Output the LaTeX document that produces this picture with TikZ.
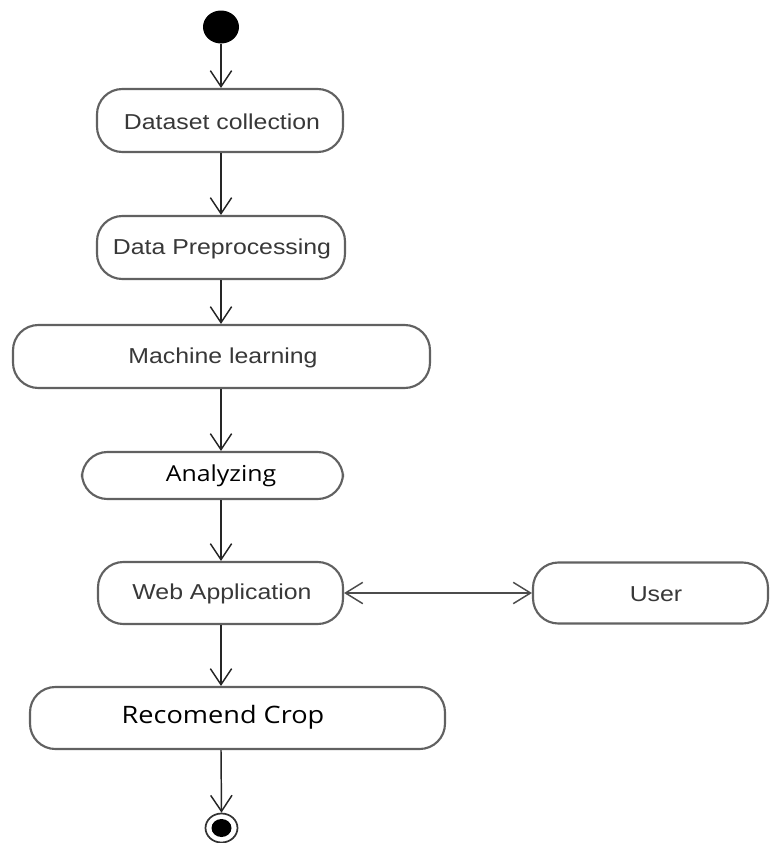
\documentclass[tikz,border=0pt]{standalone}
\usepackage{fontspec}
\setmainfont{Liberation Sans}[FakeStretch=1.15]
\newfontfamily\osans{Open Sans}[FakeStretch=1.13]
\usetikzlibrary{arrows.meta,shapes.geometric}
\def\u{0.75pt}
\tikzset{
  box/.style={draw=black!62, line width=1.6pt, rounded corners=19pt, fill=white, inner sep=0pt},
  lbl/.style={inner sep=0pt, text=black!78, font=\fontsize{16.2pt}{18pt}\selectfont},
  lblb/.style={inner sep=0pt, text=black, font=\osans\fontsize{16.5pt}{18pt}\selectfont},
  arr/.style={draw=black!85, line width=1.1pt, -{Straight Barb[length=12pt, width=16pt, line width=1.1pt]}},
  darr/.style={draw=black!70, line width=1.1pt, {Straight Barb[length=13pt, width=16pt, line width=1.1pt]}-{Straight Barb[length=13pt, width=16pt, line width=1.1pt]}},
}
\begin{document}
\begin{tikzpicture}[x=0.75pt, y=-0.75pt]
\useasboundingbox (0,0) rectangle (769,843);
% start
\node[draw=none, fill=black, ellipse, minimum width=36*\u, minimum height=33*\u, inner sep=0pt] (start) at (221,27) {};
% boxes
\node[box, minimum width=246*\u, minimum height=63*\u] (dc) at (220,120.5) {};
\node[lbl] (dct) at (222,122) {Dataset collection};
\node[box, minimum width=248*\u, minimum height=63*\u] (dp) at (221,247.5) {};
\node[lbl] (dpt) at (222,249) {Data Preprocessing};
\node[box, minimum width=417*\u, minimum height=63*\u] (ml) at (221.5,356.5) {};
\node[lbl] (mlt) at (223,358) {Machine learning};
\node[box, minimum width=261*\u, minimum height=47*\u] (an) at (212.5,475.5) {};
\node[lblb] (ant) at (221,476) {Analyzing};
\node[box, minimum width=245*\u, minimum height=62*\u] (wa) at (220.5,593) {};
\node[lbl] (wat) at (222,594) {Web Application};
\node[box, minimum width=235*\u, minimum height=61*\u] (us) at (650.5,593) {};
\node[lbl] (ust) at (656,594) {User};
\node[box, minimum width=415*\u, minimum height=62*\u] (rc) at (237.5,718) {};
\node[lblb, font=\osans\fontsize{18pt}{20pt}\selectfont] (rct) at (223,717) {Recomend Crop};
% end
\node[draw=black!80, line width=1.3pt, ellipse, minimum width=32*\u, minimum height=29*\u, inner sep=0pt] (endo) at (221.5,828) {};
\node[fill=black, ellipse, minimum width=20*\u, minimum height=18*\u, inner sep=0pt] (endi) at (221.5,828) {};
% connectors
\draw[arr] (start.south) -- (dc.north -| start);
\draw[arr] (dc.south -| start) -- (dp.north -| start);
\draw[arr] (dp.south -| start) -- (ml.north -| start);
\draw[arr] (ml.south -| start) -- (an.north -| start);
\draw[arr] (an.south -| start) -- (wa.north -| start);
\draw[arr] (wa.south -| start) -- (rc.north -| start);
\draw[arr] (rc.south -| start) -- (endo.north);
\draw[darr] (wa.east) -- (wa.east -| us.west);
\end{tikzpicture}
\end{document}
